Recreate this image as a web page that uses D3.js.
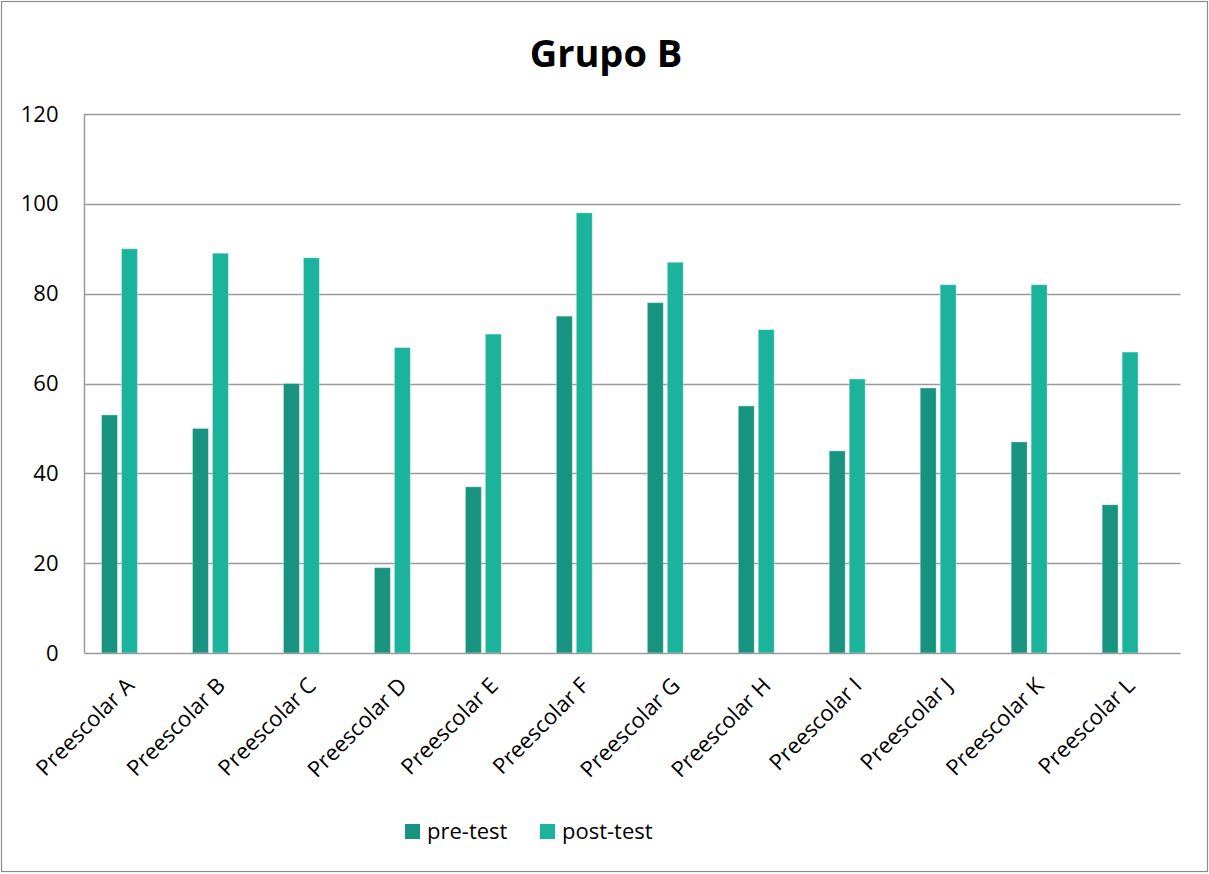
<!DOCTYPE html>
<html>
<head>
<meta charset="utf-8">
<script src="https://cdn.jsdelivr.net/npm/d3@7"></script>
<style>
  html, body { margin: 0; padding: 0; background: #fff; }
  svg { display: block; font-family: "Open Sans", "Noto Sans", sans-serif; }
</style>
</head>
<body>
<svg id="chart" width="1209" height="874"></svg>
<script>
// Scores per preschool, before and after the program
const categories = ["Preescolar A", "Preescolar B", "Preescolar C", "Preescolar D", "Preescolar E", "Preescolar F",
                    "Preescolar G", "Preescolar H", "Preescolar I", "Preescolar J", "Preescolar K", "Preescolar L"];
const preTest  = [53, 50, 60, 19, 37, 75, 78, 55, 45, 59, 47, 33];
const postTest = [90, 89, 88, 68, 71, 98, 87, 72, 61, 82, 82, 67];
const seriesNames = ["pre-test", "post-test"];
const yTicks = [0, 20, 40, 60, 80, 100, 120];

const colors = ["#17937f", "#1bb39c"];

const svg = d3.select("#chart");
const W = 1209, H = 874;

// outer frame
svg.append("rect")
  .attr("x", 1.5).attr("y", 1.5)
  .attr("width", W - 3).attr("height", H - 4)
  .attr("fill", "#fff").attr("stroke", "#8c8c8c").attr("stroke-width", 1.2);

// title
svg.append("text")
  .attr("x", 606).attr("y", 67)
  .attr("text-anchor", "middle")
  .attr("font-size", 38).attr("font-weight", "bold")
  .attr("fill", "#000")
  .text("Grupo B");

const plot = { left: 84.5, right: 1180.5, top: 114, bottom: 653 };

const y = d3.scaleLinear().domain([0, 120]).range([plot.bottom, plot.top]);

// category bands (groups sit slightly left of the frame's band centres)
const x = d3.scaleBand().domain(categories).range([74, 1165.6]).paddingInner(0).paddingOuter(0);
const xs = d3.scaleBand().domain(seriesNames).range([0, x.bandwidth()]).paddingInner(0.2).paddingOuter(1.38);

// gridlines
svg.append("g")
  .selectAll("line")
  .data(yTicks.filter(d => d > 0))
  .join("line")
  .attr("x1", plot.left).attr("x2", plot.right)
  .attr("y1", d => Math.round(y(d)) + 0.5).attr("y2", d => Math.round(y(d)) + 0.5)
  .attr("stroke", "#9a9a9a").attr("stroke-width", 1.5);

// y axis line and labels
svg.append("line")
  .attr("x1", plot.left).attr("x2", plot.left)
  .attr("y1", plot.top).attr("y2", plot.bottom)
  .attr("stroke", "#9a9a9a").attr("stroke-width", 1.5);

const yAxis = d3.axisLeft(y).tickValues(yTicks).tickSize(0).tickPadding(26);
const gy = svg.append("g").attr("transform", `translate(${plot.left},0)`).call(yAxis);
gy.select(".domain").remove();
gy.selectAll("text").attr("font-size", 22).attr("fill", "#000")
  .attr("font-family", "'Open Sans', 'Noto Sans', sans-serif");

// bars
const rows = categories.map((c, i) => ({ cat: c, vals: [preTest[i], postTest[i]] }));
const groups = svg.append("g").selectAll("g")
  .data(rows)
  .join("g")
  .attr("transform", d => `translate(${x(d.cat)},0)`);

groups.selectAll("rect")
  .data(d => d.vals.map((v, k) => ({ key: seriesNames[k], v, k })))
  .join("rect")
  .attr("x", d => xs(d.key))
  .attr("width", xs.bandwidth())
  .attr("y", d => y(d.v))
  .attr("height", d => y(0) - y(d.v))
  .attr("fill", d => colors[d.k])
  .attr("stroke", "rgba(255,255,255,0.35)")
  .attr("stroke-width", 1);

// x baseline
svg.append("line")
  .attr("x1", plot.left).attr("x2", plot.right)
  .attr("y1", plot.bottom + 0.5).attr("y2", plot.bottom + 0.5)
  .attr("stroke", "#9a9a9a").attr("stroke-width", 1.5);

// x labels, rotated
const xAxis = d3.axisBottom(x).tickSize(0).tickPadding(0);
const gx = svg.append("g").attr("transform", `translate(0,${plot.bottom})`).call(xAxis);
gx.select(".domain").remove();
gx.selectAll(".tick text")
  .attr("font-size", 22).attr("fill", "#000")
  .attr("font-family", "'Open Sans', 'Noto Sans', sans-serif")
  .attr("text-anchor", "end")
  .attr("dy", 0).attr("y", 0)
  .attr("transform", "translate(16,34) rotate(-45)");

// legend
const legend = svg.append("g");
const legendItems = [{ name: seriesNames[0], x: 405 }, { name: seriesNames[1], x: 540 }];
legendItems.forEach((d, i) => {
  legend.append("rect")
    .attr("x", d.x).attr("y", 824)
    .attr("width", 15).attr("height", 15)
    .attr("fill", colors[i]);
  legend.append("text")
    .attr("x", d.x + 22).attr("y", 839)
    .attr("font-size", 22).attr("fill", "#000")
    .text(d.name);
});
</script>
</body>
</html>
